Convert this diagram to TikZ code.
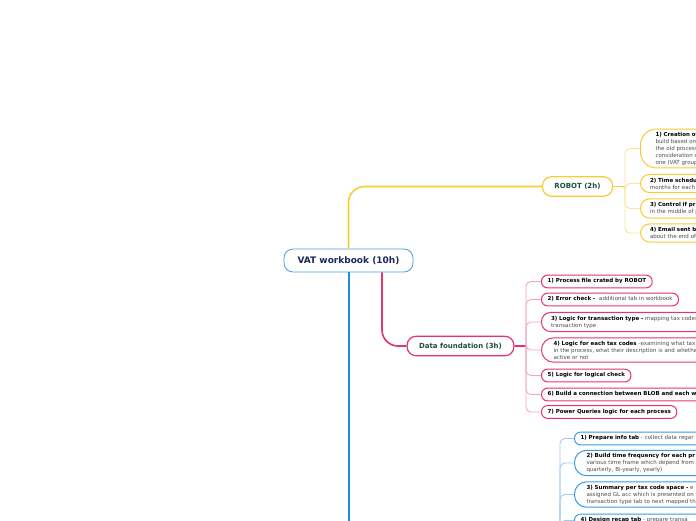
\documentclass[tikz,border=0pt]{standalone}
\usepackage{fontspec}
\setmainfont{DejaVu Sans}
\definecolor{ylw}{HTML}{F8CC34}
\definecolor{ylwl}{HTML}{FBE39A}
\definecolor{pnk}{HTML}{E6336A}
\definecolor{pnkl}{HTML}{F2A6C0}
\definecolor{blu}{HTML}{1E8FE3}
\definecolor{blul}{HTML}{9DCBF2}
\definecolor{bluebox}{HTML}{3A9BE8}
\definecolor{rootblue}{HTML}{4B9CD9}
\definecolor{navy}{HTML}{1B2A5C}
\definecolor{dgreen}{HTML}{1D4F3C}
\definecolor{dgray}{HTML}{4D4D4D}
\newcommand{\dsc}[1]{{\color{dgray}\mdseries #1}}
\begin{document}
\begin{tikzpicture}[x=1pt,y=-1pt,
  rootbox/.style={draw=rootblue, line width=0.8pt, rounded corners=9pt, fill=white,
    font=\fontsize{9}{11}\selectfont\bfseries, text=navy, minimum width=129pt, minimum height=23pt},
  mainbox/.style={draw=#1, line width=1.2pt, rounded corners=9pt, fill=white,
    font=\fontsize{7}{8}\selectfont\bfseries, text=dgreen, minimum height=19.5pt, inner xsep=12pt},
  leaf/.style={draw=#1, line width=1pt, fill=white, anchor=west, align=left, text=black,
    font=\fontsize{5.5}{7}\selectfont\bfseries, inner ysep=3.5pt, rounded corners=6pt, inner xsep=6pt},
  one/.style={text height=4.2pt, text depth=1.3pt, inner ysep=3.6pt},
  two/.style={inner xsep=9.5pt, rounded corners=9pt, inner ysep=3.4pt},
  three/.style={inner xsep=12pt, rounded corners=12pt, inner ysep=3pt},
  wide/.style={text width=200pt},
  ylwline/.style={ylw, line width=1.6pt, rounded corners=16pt},
  pnkline/.style={pnk, line width=1.6pt, rounded corners=16pt},
  bluline/.style={blu, line width=2pt},
  sub/.style={line width=0.9pt, rounded corners=5pt}
]
\useasboundingbox (0,0) rectangle (696,520);
\clip (0,0) rectangle (696,520);
\fill[white] (0,0) rectangle (696,520);

% main nodes
\node[rootbox] (root) at (348.5,260.5) {VAT workbook (10h)};
\node[mainbox=ylw] (robot) at (577.5,186.5) {ROBOT (2h)};
\node[mainbox=pnk] (df) at (460.5,346) {Data foundation (3h)};

% ROBOT children
\node[leaf=ylw, wide, inner xsep=15pt, rounded corners=16pt, inner ysep=2.8pt] (r1) at (640,148.5)
  {1) Creation of\\ \dsc{build based on}\\ \dsc{the old process}\\ \dsc{consideration o}\\ \dsc{one (VAT group}};
\node[leaf=ylw, wide, two] (r2) at (640,183.5) {2) Time schedu\\ \dsc{months for each}};
\node[leaf=ylw, wide, two] (r3) at (640,208.5) {3) Control if pr\\ \dsc{in the middle of p}};
\node[leaf=ylw, wide, two] (r4) at (640,233) {4) Email sent b\\ \dsc{about the end of}};

% Data foundation children
\node[leaf=pnk, one] (p1) at (541,281.5) {1) Process file crated by ROBOT};
\node[leaf=pnk, one] (p2) at (541,299.5) {2) Error check -\ \ \dsc{additional tab in workbook}};
\node[leaf=pnk, wide, two] (p3) at (541,322) {3) Logic for transaction type - \dsc{mapping tax codes}\\ \dsc{transaction type}};
\node[leaf=pnk, wide, three] (p4) at (541,350) {4) Logic for each tax codes \dsc{-examining what tax}\\ \dsc{in the process, what their description is and whether}\\ \dsc{active or not}};
\node[leaf=pnk, one] (p5) at (541,375.5) {5) Logic for logical check};
\node[leaf=pnk, one, wide] (p6) at (541,394.5) {6) Build a connection between BLOB and each w};
\node[leaf=pnk, one] (p7) at (541,412) {7) Power Queries logic for each process};

% third branch children
\node[leaf=bluebox, one, wide] (b1) at (574,438.5) {1) Prepare info tab \dsc{- collect data regar}};
\node[leaf=bluebox, wide, three] (b2) at (574,463) {2) Build time frequency for each pr\\ \dsc{various time frame which depend from}\\ \dsc{quarterly, Bi-yearly, yearly)}};
\node[leaf=bluebox, wide, three] (b3) at (574,494.5) {3) Summary per tax code space - \dsc{e}\\ \dsc{assigned GL acc which is presented on}\\ \dsc{transaction type tab to next mapped th}};
\node[leaf=bluebox, one, wide] (b4) at (574,520.5) {4) Design recap tab \dsc{- prepare transa}};

% coordinates
\coordinate (ys) at (625,186.5);
\coordinate (ps) at (526,346);
\coordinate (bs) at (560,570);
\coordinate (blueend) at (348.5,560);

% main connectors
\draw[ylwline] (root.north) |- (robot.west);
\draw[pnkline] ([xshift=33.5pt]root.south) |- (df.west);
\draw[bluline] (root.south) -- (blueend);

% ROBOT spine
\draw[ylw, line width=1pt] (robot.east) -- (ys);
\foreach \n in {r1,r2,r3,r4} \draw[ylwl, sub] (ys) |- (\n.west);

% Data foundation spine
\draw[pnk, line width=1.2pt] (df.east) -- (ps);
\foreach \n in {p1,p2,p3,p4,p5,p6,p7} \draw[pnkl, sub] (ps) |- (\n.west);

% third spine
\foreach \n in {b1,b2,b3,b4} \draw[blul, sub] (bs) |- (\n.west);
\end{tikzpicture}
\end{document}
